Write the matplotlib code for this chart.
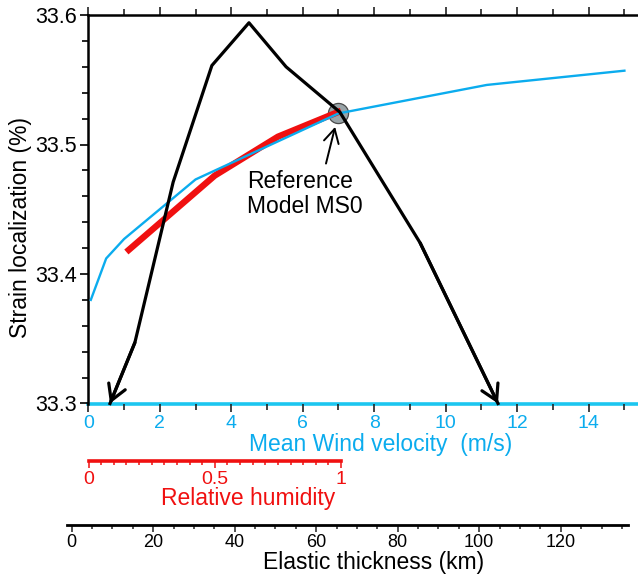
import matplotlib
matplotlib.use('Agg')
import matplotlib.pyplot as plt
from matplotlib.ticker import MultipleLocator, FormatStrFormatter, FuncFormatter
from matplotlib.transforms import blended_transform_factory

plt.rcParams['font.family'] = ['Liberation Sans', 'DejaVu Sans']

# strain localization against mean wind velocity (m/s)
wind = [0.07, 0.5, 1.0, 3.0, 7.0, 11.15, 15.0]
strain_wind = [33.380, 33.412, 33.427, 33.473, 33.524, 33.546, 33.557]

# strain localization against relative humidity
humidity = [0.15, 0.5, 0.75, 1.0]
strain_hum = [33.417, 33.476, 33.506, 33.526]

# strain localization against elastic thickness (km)
thickness = [9.4, 15.5, 24.9, 34.4, 43.5, 52.6, 65.8, 85.5, 104.6]
strain_te = [33.300, 33.347, 33.471, 33.561, 33.594, 33.560, 33.525, 33.424, 33.300]

# reference model MS0
ref_wind, ref_strain = 7.0, 33.524

BLUE = '#0BACEE'
CYAN = '#1CC6F0'
RED = '#F01010'

W, H = 638, 575


def box(x0, y0, x1, y1):
    # pixel box (from top-left) -> figure fraction rect
    return [x0 / W, 1 - y1 / H, (x1 - x0) / W, (y1 - y0) / H]


def axis_only(a, color, lw):
    a.patch.set_visible(False)
    for s in ['top', 'left', 'right']:
        a.spines[s].set_visible(False)
    a.spines['bottom'].set_color(color)
    a.spines['bottom'].set_linewidth(lw)
    a.set_yticks([])


fig = plt.figure(figsize=(W / 100, H / 100), dpi=100)

ax = fig.add_axes(box(88.3, 15, 638, 403.5))
ax_rh = fig.add_axes(box(88.5, 460, 341, 461))
ax_te = fig.add_axes(box(67, 524, 628, 525))

# main axes: wind velocity
ax.set_xlim(0, 15.38)
ax.set_ylim(33.3, 33.6)
ax.spines['right'].set_visible(False)
ax.spines['left'].set_linewidth(1.8)
ax.spines['top'].set_linewidth(1.8)
ax.spines['bottom'].set_color(CYAN)
ax.spines['bottom'].set_linewidth(2.6)
ax.spines['bottom'].set_zorder(1)
ax.xaxis.set_major_locator(MultipleLocator(2))
ax.xaxis.set_minor_locator(MultipleLocator(1))
ax.yaxis.set_major_locator(MultipleLocator(0.1))
ax.yaxis.set_minor_locator(MultipleLocator(0.02))
ax.yaxis.set_major_formatter(FormatStrFormatter('%.1f'))
ax.tick_params(axis='x', which='both', top=True, direction='out', color='#222',
               labelcolor=BLUE, labelsize=14, pad=2)
ax.tick_params(axis='x', which='major', length=6, width=1.2)
ax.tick_params(axis='x', which='minor', length=4, width=1.2)
ax.tick_params(axis='y', which='both', direction='out', labelsize=15.5, pad=2)
ax.tick_params(axis='y', which='major', length=6, width=1.2)
ax.tick_params(axis='y', which='minor', length=4, width=1.2)
ax.set_ylabel('Strain localization (%)', fontsize=16.5)
ax.yaxis.set_label_coords(-0.102, 0.454)

# relative humidity scale
axis_only(ax_rh, RED, 2.6)
ax_rh.set_xlim(0, 1)
ax_rh.xaxis.set_major_locator(MultipleLocator(0.5))
ax_rh.xaxis.set_minor_locator(MultipleLocator(0.05))
ax_rh.xaxis.set_major_formatter(FuncFormatter(lambda v, _: f'{v:g}'))
ax_rh.tick_params(axis='x', which='both', direction='out', color=RED,
                  labelcolor=RED, labelsize=14, pad=2, width=1.1)
ax_rh.tick_params(axis='x', which='major', length=5)
ax_rh.tick_params(axis='x', which='minor', length=3)

# elastic thickness scale
axis_only(ax_te, 'black', 2.0)
ax_te.set_xlim(-1.15, 136.5)
ax_te.xaxis.set_major_locator(MultipleLocator(20))
ax_te.xaxis.set_minor_locator(MultipleLocator(5))
ax_te.tick_params(axis='x', which='both', direction='out', color='#222',
                  labelsize=13, pad=1.5, width=1.1)
ax_te.tick_params(axis='x', which='major', length=5)
ax_te.tick_params(axis='x', which='minor', length=3)

tr_rh = blended_transform_factory(ax_rh.transData, ax.transData)
tr_te = blended_transform_factory(ax_te.transData, ax.transData)

ax.plot(ref_wind, ref_strain, 'o', ms=14.5, mfc='#99A4A8', mec='#4a4a4a',
        mew=0.9, zorder=2)
ax.plot(humidity, strain_hum, color=RED, lw=4.6, solid_capstyle='butt',
        transform=tr_rh, zorder=3)
ax.plot(wind, strain_wind, color=BLUE, lw=1.7, zorder=4)
ax.plot(thickness, strain_te, color='black', lw=2.3, transform=tr_te,
        zorder=5, clip_on=False)

# arrow heads on both ends of the thickness curve
head = dict(arrowstyle='->,head_length=0.55,head_width=0.32', lw=2.3,
            color='black', shrinkA=0, shrinkB=0, mutation_scale=20)
for i, j in [(1, 0), (-2, -1)]:
    ax.annotate('', xy=(thickness[j], strain_te[j]),
                xytext=(thickness[i], strain_te[i]),
                xycoords=tr_te, textcoords=tr_te, arrowprops=head,
                annotation_clip=False, zorder=5)

ax.annotate('Reference\nModel MS0', xy=(ref_wind, ref_strain),
            xytext=(-66, -41), textcoords='offset points',
            ha='left', va='top', fontsize=16.5, linespacing=1.1,
            arrowprops=dict(arrowstyle='->,head_length=0.55,head_width=0.3',
                            lw=1.4, color='black', relpos=(0.67, 1.0),
                            shrinkA=3, shrinkB=10, mutation_scale=18),
            zorder=6)

fig.text(381 / W, 1 - 444 / H, 'Mean Wind velocity  (m/s)', color=BLUE,
         fontsize=16.5, ha='center', va='center')
fig.text(248 / W, 1 - 498 / H, 'Relative humidity', color=RED,
         fontsize=16.5, ha='center', va='center')
fig.text(374 / W, 1 - 563 / H, 'Elastic thickness (km)', color='black',
         fontsize=16.5, ha='center', va='center')

fig.savefig('out.png', dpi=100)
